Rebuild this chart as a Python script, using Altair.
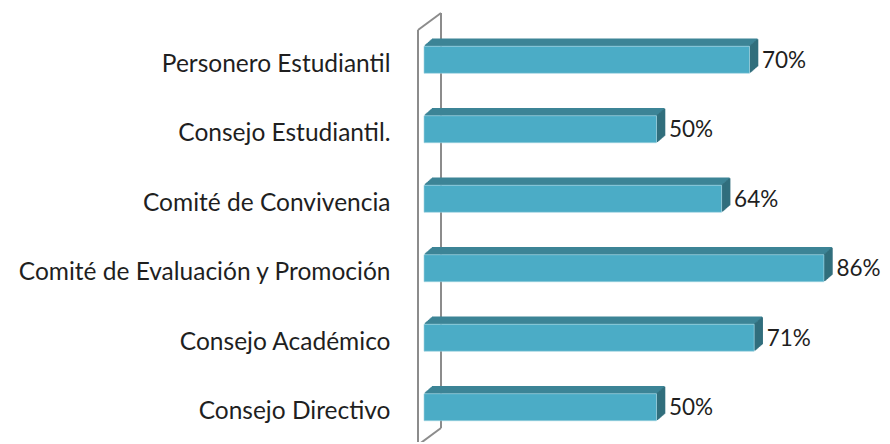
import altair as alt
import pandas as pd

categories = [
    "Personero Estudiantil",
    "Consejo Estudiantil.",
    "Comité de Convivencia",
    "Comité de Evaluación y Promoción",
    "Consejo Académico",
    "Consejo Directivo",
]
values = [70, 50, 64, 86, 71, 50]

df = pd.DataFrame({"cat": categories, "value": values})

FRONT = "#4BACC6"
TOP = "#3C8496"
SIDE = "#316E7D"
WALL = "#8C8C8C"
FONT = "Lato"
FS = 24.5

PX_PER_UNIT = 4.65
W = 464
H = 417
x_scale = alt.Scale(domain=[-6 / PX_PER_UNIT, (W - 6) / PX_PER_UNIT], nice=False, zero=False)
y_scale = alt.Scale(domain=categories, paddingInner=0.6115, paddingOuter=0.3058)

base = alt.Chart(df)
xenc = alt.X("value:Q", scale=x_scale, axis=None)
yenc = alt.Y(
    "cat:N",
    scale=y_scale,
    sort=categories,
    axis=alt.Axis(
        title=None,
        domain=False,
        ticks=False,
        labelPadding=28,
        labelFont=FONT,
        labelFontSize=FS,
        labelColor="#1f1f1f",
        labelOffset=5,
        labelLimit=500,
    ),
)

layers = []
DX, DY, STEPS = 8, 7, 10
# top faces
for i in range(1, STEPS + 1):
    k = i / STEPS
    layers.append(
        base.mark_rule(
            color=TOP,
            strokeWidth=1.6,
            xOffset=DX * k,
            x2Offset=DX * k,
            yOffset=-13.5 - DY * k,
        ).encode(x=alt.X("zero:Q", scale=x_scale, axis=None), x2="value:Q", y=yenc)
        .transform_calculate(zero="0")
    )
# side faces
for i in range(1, STEPS + 1):
    k = i / STEPS
    layers.append(
        base.mark_tick(
            color=SIDE,
            size=27,
            thickness=1.6,
            opacity=1,
            xOffset=DX * k,
            yOffset=-DY * k,
        ).encode(x=xenc, y=yenc)
    )

front = base.mark_bar(color=FRONT, stroke="#9fd3e0", strokeWidth=0.6).encode(x=xenc, y=yenc)
labels = base.mark_text(
    align="left", baseline="middle", dx=12.5, dy=1, font=FONT, fontSize=22.5, color="#1f1f1f"
).encode(x=xenc, y=yenc, text="label:N").transform_calculate(label="datum.value + '%'")

wall_df = pd.DataFrame({"a": [0]})
wall = alt.Chart(wall_df)
wall_lines = [
    wall.mark_rule(color=WALL, strokeWidth=2).encode(x=alt.value(0), y=alt.value(5), y2=alt.value(440)),
    wall.mark_rule(color=WALL, strokeWidth=2).encode(x=alt.value(23), y=alt.value(-12), y2=alt.value(403)),
    wall.mark_rule(color=WALL, strokeWidth=2).encode(
        x=alt.value(0), x2=alt.value(23), y=alt.value(5), y2=alt.value(-12)
    ),
    wall.mark_rule(color=WALL, strokeWidth=2).encode(
        x=alt.value(23), x2=alt.value(0), y=alt.value(403), y2=alt.value(420)
    ),
]

chart = (
    alt.layer(*wall_lines, *layers, front, labels)
    .properties(
        width=W,
        height=H,
        padding={"left": 410, "top": 17, "right": 0, "bottom": 0},
        autosize=alt.AutoSizeParams(type="none"),
        background="white",
    )
    .configure_view(stroke=None)
)

chart.save("out.html", embed_options={"renderer": "svg", "actions": False})
